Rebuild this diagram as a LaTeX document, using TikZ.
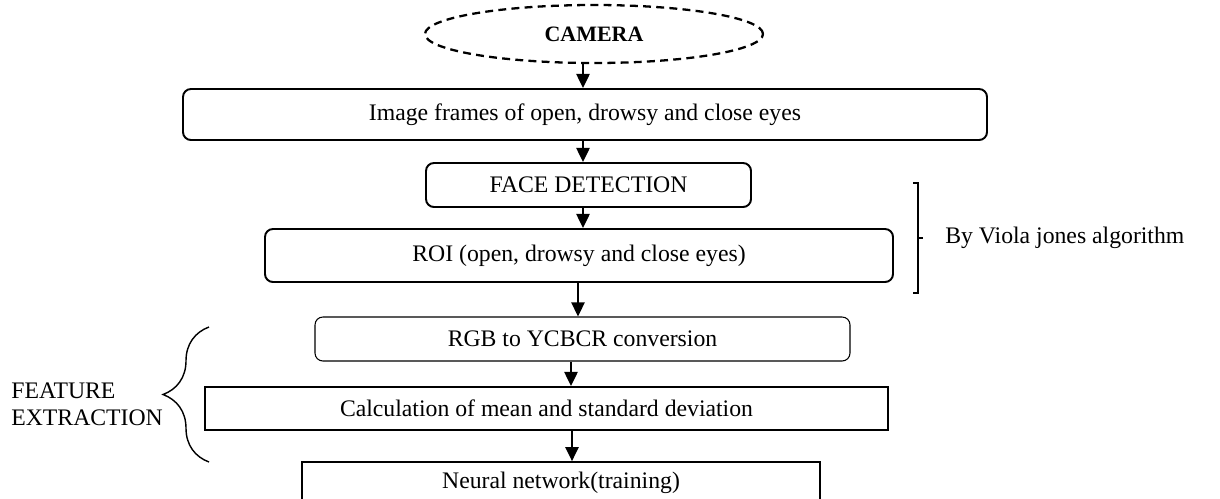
\documentclass[tikz,border=0pt]{standalone}
\usepackage{fontspec}
\setmainfont{Liberation Serif}
\usepackage{tikz}
\usetikzlibrary{shapes.geometric,arrows.meta,decorations.pathreplacing,positioning,calc}
\newcommand{\px}{0.02cm}
\tikzset{%
  every stage/.style={
    draw,
    line width=1.1pt,
    inner sep=0pt,
    font=\fontsize{13.5}{15.5}\selectfont
  },
  stage round/.style={
    every stage,
    rounded corners=4.5pt
  },
  stage thin/.style={
    stage round,
    line width=0.6pt
  },
  source/.style={
    ellipse,
    draw,
    dashed,
    line width=1.3pt,
    dash pattern=on 4.5pt off 3pt,
    inner sep=0pt,
    font=\fontsize{12.5}{14}\selectfont\bfseries
  },
  note/.style={
    inner sep=0pt,
    font=\fontsize{13.5}{15.5}\selectfont
  },
}

\begin{document}
\begin{tikzpicture}[x=0.02cm, y=-0.02cm, >={Triangle[length=8pt,width=7.5pt]}]

\useasboundingbox (0,0) rectangle (1220,498);
\clip (0,0) rectangle (1220,498);

\node [source, minimum width=338*\px, minimum height=58*\px] (camera) at (594,34) {CAMERA};

\node [stage round, minimum width=804*\px, minimum height=51*\px] (frames) at (585,114.5)
  {Image frames of open, drowsy and close eyes};
\node [stage round, minimum width=325*\px, minimum height=44*\px] (face) at (588.5,185)
  {FACE DETECTION};
\node [stage round, minimum width=628*\px, minimum height=53*\px] (roi) at (579,255.5)
  {ROI (open, drowsy and close eyes)};
\node [stage thin, minimum width=535*\px, minimum height=44*\px] (rgb) at (582.5,339)
  {RGB to YCBCR conversion};
\node [every stage, minimum width=683*\px, minimum height=43*\px] (calc) at (546.5,408.5)
  {Calculation of mean and standard deviation};
\node [every stage, line width=1pt, minimum width=518*\px, minimum height=42*\px] (neural) at (561,483)
  {Neural network(training)};

\foreach \a/\b/\x in {camera/frames/583, frames/face/583, face/roi/583,
                      roi/rgb/578, rgb/calc/571, calc/neural/572}
  \draw [->, line width=1.1pt] (\a.south -| \x,0) -- (\b.north -| \x,0);

% viola jones bracket
\coordinate (vj-top) at (913,183);
\coordinate (vj-bot) at (913,293);
\draw [line width=0.9pt] (vj-top) -- ++(5,0) coordinate (vj-a) -- (vj-a |- vj-bot) -- (vj-bot);
\coordinate (vj-mid) at ($(vj-a)!0.5!(vj-a |- vj-bot)$);
\draw [line width=0.9pt] (vj-mid) -- ++(5,0);
\node [note, anchor=west] (vj-label) at ($(vj-mid)+(27,0)$) {By Viola jones algorithm};

% feature extraction brace
\coordinate (fe-bot) at (209,462);
\coordinate (fe-top) at (209,327);
\draw [line width=0.8pt, decorate, decoration={brace, amplitude=0.92cm}] (fe-bot) -- (fe-top);
\node [note, align=left, anchor=west] (fe-label) at (11,404) {FEATURE\\EXTRACTION};

\end{tikzpicture}
\end{document}
